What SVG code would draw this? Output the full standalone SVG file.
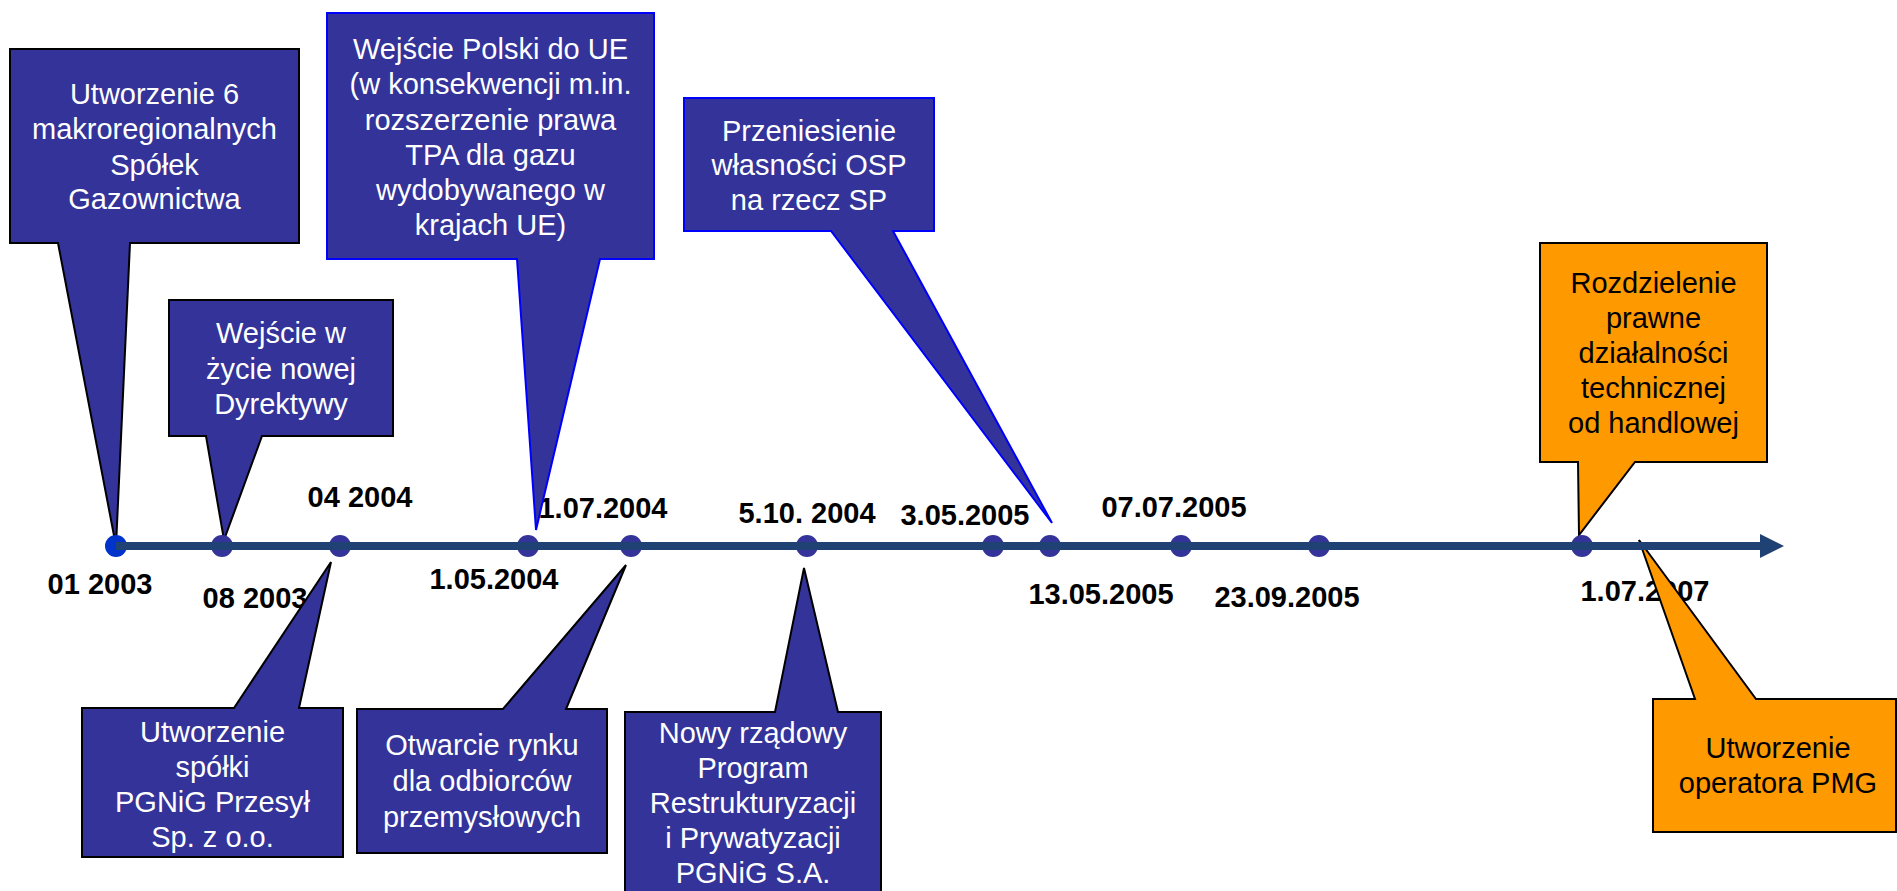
<svg xmlns="http://www.w3.org/2000/svg" width="1897" height="891" viewBox="0 0 1897 891">
<defs>
<style>
.box{fill:#333399;stroke:#000;stroke-width:2;stroke-linejoin:miter}
.boxb{fill:#333399;stroke:#0000ff;stroke-width:2}
.org{fill:#ff9900;stroke:#000;stroke-width:2}
.t{font-family:"Liberation Sans",Arial,sans-serif;font-size:29px;fill:#fff;text-anchor:middle}
.tk{fill:#000}
.d{font-family:"Liberation Sans",Arial,sans-serif;font-size:29px;font-weight:bold;fill:#000;text-anchor:middle}
.dot{fill:#333399}
.axis{stroke:#1f4173;stroke-width:8;fill:none}
</style>
<marker id="arr" markerUnits="userSpaceOnUse" markerWidth="26" markerHeight="26" refX="0" refY="12" orient="auto">
<path d="M0,0 L24,12 L0,24 Z" fill="#1f4173"/>
</marker>
</defs>
<rect width="1897" height="891" fill="#fff"/>

<g id="date-labels">
<text class="d" x="100" y="594">01 2003</text>
<text class="d" x="255" y="608">08 2003</text>
<text class="d" x="360" y="507">04 2004</text>
<text class="d" x="494" y="589">1.05.2004</text>
<text class="d" x="603" y="518">1.07.2004</text>
<text class="d" x="807" y="523">5.10. 2004</text>
<text class="d" x="965" y="525">3.05.2005</text>
<text class="d" x="1101" y="604">13.05.2005</text>
<text class="d" x="1174" y="517">07.07.2005</text>
<text class="d" x="1287" y="607">23.09.2005</text>
<text class="d" x="1645" y="601">1.07.2007</text>
</g>

<g id="node-2003-01">
<path class="box" d="M10,49 H299 V243 H130 L116,546 L58,243 H10 Z"/>
<text class="t" x="154.5" y="104">Utworzenie 6</text>
<text class="t" x="154.5" y="139">makroregionalnych</text>
<text class="t" x="154.5" y="175">Spółek</text>
<text class="t" x="154.5" y="209">Gazownictwa</text>
</g>

<g id="node-2003-08">
<path class="box" d="M169,300 H393 V436 H262 L224,540 L206,436 H169 Z"/>
<text class="t" x="281" y="343">Wejście w</text>
<text class="t" x="281" y="379">życie nowej</text>
<text class="t" x="281" y="414">Dyrektywy</text>
</g>

<g id="node-2004-05">
<path class="boxb" d="M327,13 H654 V259 H600 L536,530 L517,259 H327 Z"/>
<text class="t" x="490.5" y="59">Wejście Polski do UE</text>
<text class="t" x="490.5" y="94">(w konsekwencji m.in.</text>
<text class="t" x="490.5" y="130">rozszerzenie prawa</text>
<text class="t" x="490.5" y="165">TPA dla gazu</text>
<text class="t" x="490.5" y="200">wydobywanego w</text>
<text class="t" x="490.5" y="235">krajach UE)</text>
</g>

<g id="node-2005-05-13">
<path class="boxb" d="M684,98 H934 V231 H893 L1052,523 L831,231 H684 Z"/>
<text class="t" x="809" y="141">Przeniesienie</text>
<text class="t" x="809" y="175">własności OSP</text>
<text class="t" x="809" y="210">na rzecz SP</text>
</g>

<g id="node-2004-04">
<path class="box" d="M82,708 H234 L331,562 L299,708 H343 V857 H82 Z"/>
<text class="t" x="212.5" y="742">Utworzenie</text>
<text class="t" x="212.5" y="777">spółki</text>
<text class="t" x="212.5" y="812">PGNiG Przesył</text>
<text class="t" x="212.5" y="847">Sp. z o.o.</text>
</g>

<g id="node-2004-07">
<path class="box" d="M357,709 H503 L626,565 L566,709 H607 V853 H357 Z"/>
<text class="t" x="482" y="755">Otwarcie rynku</text>
<text class="t" x="482" y="791">dla odbiorców</text>
<text class="t" x="482" y="827">przemysłowych</text>
</g>

<g id="node-2004-10">
<path class="box" d="M625,712 H775 L804,568 L838,712 H881 V895 H625 Z"/>
<text class="t" x="753" y="743">Nowy rządowy</text>
<text class="t" x="753" y="778">Program</text>
<text class="t" x="753" y="813">Restrukturyzacji</text>
<text class="t" x="753" y="848">i Prywatyzacji</text>
<text class="t" x="753" y="883">PGNiG S.A.</text>
</g>

<g id="node-2007-a">
<path class="org" d="M1540,243 H1767 V462 H1635 L1579,535 L1578,462 H1540 Z"/>
<text class="t tk" x="1653.5" y="293">Rozdzielenie</text>
<text class="t tk" x="1653.5" y="328">prawne</text>
<text class="t tk" x="1653.5" y="363">działalności</text>
<text class="t tk" x="1653.5" y="398">technicznej</text>
<text class="t tk" x="1653.5" y="433">od handlowej</text>
</g>

<g id="node-2007-b">
<path class="org" d="M1653,699 H1695 L1639,540 L1756,699 H1896 V832 H1653 Z"/>
<text class="t tk" x="1778" y="758">Utworzenie</text>
<text class="t tk" x="1778" y="793">operatora PMG</text>
</g>

<g id="dots">
<circle cx="116" cy="546" r="11" fill="#0033cc"/>
<circle class="dot" cx="222" cy="546" r="11"/>
<circle class="dot" cx="340" cy="546" r="11"/>
<circle class="dot" cx="528" cy="546" r="11"/>
<circle class="dot" cx="631" cy="546" r="11"/>
<circle class="dot" cx="807" cy="546" r="11"/>
<circle class="dot" cx="993" cy="546" r="11"/>
<circle class="dot" cx="1050" cy="546" r="11"/>
<circle class="dot" cx="1181" cy="546" r="11"/>
<circle class="dot" cx="1319" cy="546" r="11"/>
<circle class="dot" cx="1582" cy="546" r="11"/>
</g>

<g id="connectors">
<line class="axis" x1="116" y1="546" x2="1760" y2="546" marker-end="url(#arr)"/>
</g>
</svg>
